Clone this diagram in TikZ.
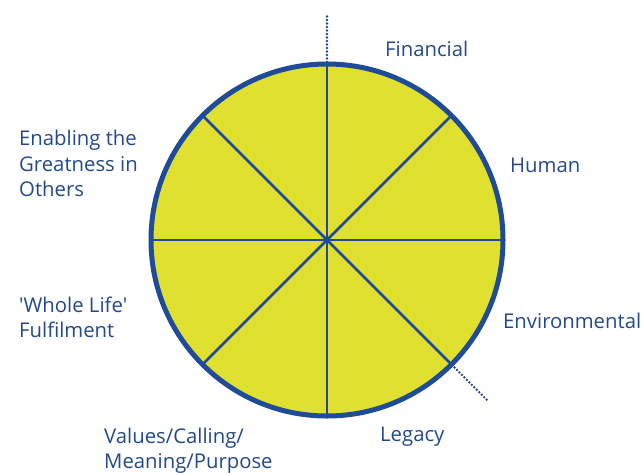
\documentclass[tikz,border=0pt]{standalone}
\usepackage{fontspec}
\usetikzlibrary{calc}
\setmainfont{Open Sans}
\definecolor{ringblue}{HTML}{1F4B98}
\definecolor{labelblue}{HTML}{23498C}
\definecolor{wheelfill}{HTML}{DFE030}
\begin{document}
\begin{tikzpicture}[x=1pt,y=-1pt,
  rim/.style={draw=ringblue,line width=5pt,fill=wheelfill},
  spoke/.style={draw=ringblue,line width=2.5pt},
  dotline/.style={draw=ringblue,line width=2.7pt,line cap=round,dash pattern=on 0pt off 3.5pt},
  lbl/.style={text=labelblue,font=\fontsize{20.3}{25.5}\selectfont,align=left,anchor=west,inner sep=0pt}]
\useasboundingbox (0,0) rectangle (644,472);
\coordinate (c) at (327,240);
% the wheel
\draw[rim] (c) circle[radius=176];
\foreach \a in {0,45,90,135} {
  \draw[spoke] ($(c)+(\a:176)$) -- ($(c)+(\a+180:176)$);
}
% dotted extensions
\coordinate (topend) at (327,14);
\coordinate (toprim) at (327,62);
\coordinate (brrim) at (452,365);
\coordinate (brend) at (487,400);
\draw[dotline] (toprim) -- (topend);
\draw[dotline] (brrim) -- (brend);
% labels
\node[lbl] (fin) at (385,48.5) {Financial};
\node[lbl] (hum) at (510,165.5) {Human};
\node[lbl] (env) at (503,320.5) {Environmental};
\node[lbl] (leg) at (380,436.5) {Legacy};
\node[lbl] (val) at (104,450.5) {Values/Calling/\\Meaning/Purpose};
\node[lbl] (whole) at (19,317.5) {\textquotesingle Whole Life\textquotesingle\\Fulfilment};
\node[lbl] (enab) at (19,163.5) {Enabling the\\Greatness in\\Others};
\end{tikzpicture}
\end{document}
